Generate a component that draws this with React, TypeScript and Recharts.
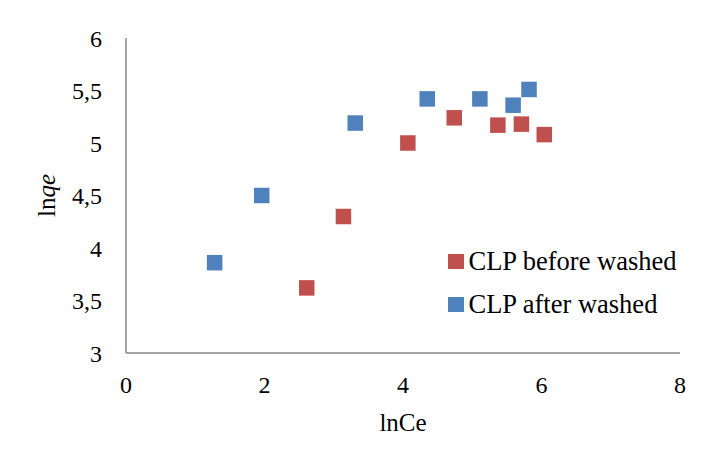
import React from 'react';
import { ScatterChart, Scatter, XAxis, YAxis, Legend } from 'recharts';

const beforeLnCe = [2.61, 3.14, 4.07, 4.74, 5.37, 5.71, 6.04];
const beforeLnQe = [3.62, 4.3, 5.0, 5.24, 5.17, 5.18, 5.08];
const afterLnCe = [1.28, 1.96, 3.31, 4.35, 5.11, 5.59, 5.82];
const afterLnQe = [3.86, 4.5, 5.19, 5.42, 5.42, 5.36, 5.51];
const xTicks = [0, 2, 4, 6, 8];
const yTicks = [3, 3.5, 4, 4.5, 5, 5.5, 6];
const seriesNames = ['CLP before washed', 'CLP after washed'];
const RED = '#C0504D';
const BLUE = '#4F81BD';
const FONT = '"Liberation Serif", "Times New Roman", serif';

const beforeData = beforeLnCe.map((x, i) => ({ x, y: beforeLnQe[i] }));
const afterData = afterLnCe.map((x, i) => ({ x, y: afterLnQe[i] }));

const SQ = 15.5;
const makeSquare = (color: string) => (props: any) => (
  <rect x={props.cx - SQ / 2} y={props.cy - SQ / 2} width={SQ} height={SQ} fill={color} />
);

const YTitle = (props: any) => {
  const vb = props.viewBox || {};
  const cy = vb.y + vb.height / 2;
  const cx = 55;
  return (
    <text
      x={cx}
      y={cy}
      transform={`rotate(-90, ${cx}, ${cy})`}
      textAnchor="middle"
      style={{ fontFamily: FONT }}
      fontSize={25}
      fill="#000"
    >
      <tspan>ln</tspan>
      <tspan fontStyle="italic">qe</tspan>
    </text>
  );
};

const renderLegend = () => {
  const colors = [RED, BLUE];
  return (
    <div style={{ fontFamily: FONT, fontSize: 26.5, color: '#000' }}>
      {seriesNames.map((n, i) => (
        <div key={n} style={{ display: 'flex', alignItems: 'center', height: 43, lineHeight: '43px' }}>
          <span style={{ display: 'inline-block', width: SQ, height: SQ, background: colors[i], marginRight: 5 }} />
          <span>{n}</span>
        </div>
      ))}
    </div>
  );
};

export default function App() {
  return (
    <div style={{ position: 'absolute', left: 0, top: 0, width: 715, height: 454, background: '#fff' }}>
      <ScatterChart width={715} height={454} margin={{ top: 38, right: 35, bottom: 22, left: 0 }}>
        <XAxis
          type="number"
          dataKey="x"
          domain={[0, 8]}
          ticks={xTicks}
          interval={0}
          height={79}
          tickLine={false}
          tickMargin={17}
          axisLine={{ stroke: '#888888', strokeWidth: 1.5 }}
          tick={{ fontSize: 24, fill: '#000', style: { fontFamily: FONT } }}
          label={{ value: 'lnCe', position: 'insideBottom', offset: 1, fontSize: 25, fill: '#000', style: { fontFamily: FONT } }}
        />
        <YAxis
          type="number"
          dataKey="y"
          domain={[3, 6]}
          ticks={yTicks}
          interval={0}
          width={126}
          tickLine={false}
          tickMargin={18}
          axisLine={{ stroke: '#888888', strokeWidth: 1.5 }}
          tick={{ fontSize: 24, fill: '#000', style: { fontFamily: FONT } }}
          tickFormatter={(v: number) => String(v).replace('.', ',')}
          label={<YTitle />}
        />
        <Legend
          layout="vertical"
          verticalAlign="middle"
          align="center"
          wrapperStyle={{ position: 'absolute', left: 448, top: 240, width: 260, margin: 0 }}
          content={renderLegend}
        />
        <Scatter name={seriesNames[0]} data={beforeData} fill={RED} shape={makeSquare(RED)} isAnimationActive={false} />
        <Scatter name={seriesNames[1]} data={afterData} fill={BLUE} shape={makeSquare(BLUE)} isAnimationActive={false} />
      </ScatterChart>
    </div>
  );
}
